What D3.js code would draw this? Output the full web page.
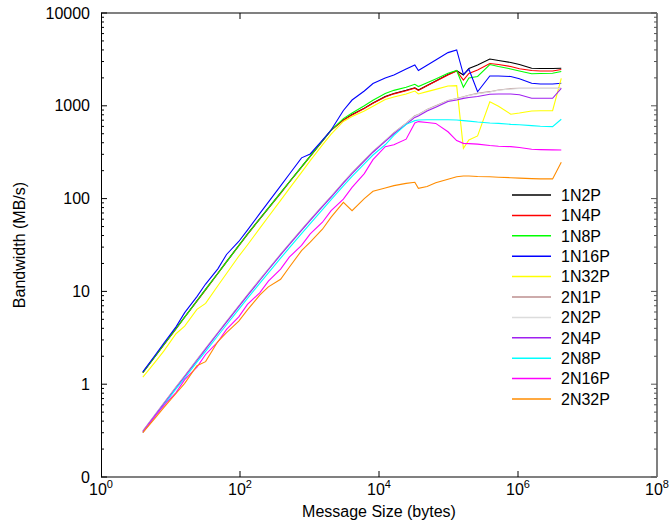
<!DOCTYPE html>
<html>
<head>
<meta charset="utf-8">
<script src="https://cdn.jsdelivr.net/npm/d3@7"></script>
<style>
  body { margin: 0; background: #fff; }
  svg { font-family: 'Liberation Sans', Arial, sans-serif; }
</style>
</head>
<body>
<div id="graf"></div>
<script>
// message sizes in bytes (shared by every series)
const sizes = [4, 6, 8, 12, 16, 24, 32, 48, 64, 96, 128, 192, 256, 384, 512, 768, 1024, 1536,
  2048, 3072, 4096, 6144, 8192, 12288, 16384, 24576, 32768, 36864, 49152, 65536, 98304,
  131072, 163840, 196608, 262144, 393216, 524288, 786432, 1048576, 1572864, 2097152,
  3145728, 4194304]

// bandwidth in MB/s, one value per size
const bw1N2P = [1.34, 2.0, 2.67, 3.98, 5.3, 7.91, 10.5, 15.7, 20.9, 31.2, 41.5, 60.5, 79.1, 115, 151, 220, 287, 419,
  547, 706, 805, 944, 1074, 1259, 1358, 1469, 1563, 1479, 1656, 1853, 2173,
  2388, 2148, 2523, 2754, 3194, 3076, 2931, 2786, 2537, 2523, 2523, 2537]
const bw1N4P = [1.33, 1.99, 2.65, 3.95, 5.27, 7.85, 10.4, 15.6, 20.8, 31.0, 41.2, 60.0, 78.5, 114, 150, 218, 285, 416,
  545, 700, 798, 935, 1064, 1247, 1345, 1455, 1548, 1465, 1640, 1835, 2150,
  2370, 1896, 2228, 2432, 2858, 2786, 2649, 2506, 2400, 2371, 2371, 2460]
const bw1N8P = [1.33, 1.99, 2.66, 3.96, 5.28, 7.88, 10.5, 15.6, 20.8, 31.1, 41.3, 60.3, 78.8, 115, 151, 220, 287, 419,
  547, 727, 837, 1001, 1149, 1360, 1467, 1587, 1704, 1612, 1772, 1946, 2238,
  2400, 1582, 1995, 2070, 2786, 2649, 2497, 2371, 2212, 2228, 2240, 2343]
const bw1N16P = [1.36, 2.05, 2.76, 4.15, 5.9, 8.8, 12.0, 17.5, 25.0, 34.5, 45.7, 68.8, 91.8, 137, 183, 275, 303, 426,
  548, 890, 1154, 1443, 1738, 1995, 2148, 2497, 2754, 2400, 2740, 3112, 3741,
  4000, 2184, 2473, 1418, 2094, 2094, 2070, 1957, 1747, 1717, 1717, 1747]
const bw1N32P = [1.19, 1.73, 2.27, 3.5, 4.22, 6.41, 7.43, 11.5, 15.6, 23.9, 31.6, 47.7, 63.7, 95.7, 128, 192, 257, 380,
  494, 678, 765, 878, 988, 1167, 1245, 1340, 1443, 1340, 1422, 1503, 1634,
  1650, 348, 428, 473, 1107, 989, 812, 836, 879, 885, 885, 1978]
const bw2N1P = [0.314, 0.47, 0.627, 0.934, 1.23, 1.84, 2.44, 3.61, 4.76, 6.99, 9.17, 13.4, 17.4, 25.2, 32.5, 46.3, 59.3, 83.6,
  106, 150, 190, 259, 322, 421, 512, 650, 780, 808, 915, 1000, 1140,
  1200, 1250, 1300, 1360, 1420, 1480, 1530, 1543, 1543, 1543, 1543, 1543]
const bw2N2P = [0.312, 0.468, 0.624, 0.93, 1.22, 1.83, 2.43, 3.59, 4.73, 6.95, 9.12, 13.3, 17.3, 25.1, 32.3, 46.0, 59.0, 83.2,
  105, 149, 189, 257, 320, 418, 508, 645, 772, 800, 905, 990, 1130,
  1190, 1240, 1290, 1350, 1410, 1470, 1520, 1535, 1535, 1535, 1535, 1535]
const bw2N4P = [0.308, 0.461, 0.615, 0.916, 1.21, 1.8, 2.39, 3.54, 4.67, 6.85, 8.99, 13.1, 17.1, 24.7, 31.9, 45.4, 58.1, 82.0,
  104, 147, 186, 254, 316, 413, 500, 631, 750, 776, 881, 966, 1114,
  1156, 1202, 1230, 1259, 1334, 1340, 1340, 1318, 1205, 1205, 1205, 1542]
const bw2N8P = [0.302, 0.453, 0.596, 0.889, 1.16, 1.73, 2.26, 3.33, 4.37, 6.4, 8.41, 12.2, 15.8, 22.8, 29.5, 41.9, 53.7, 75.9,
  97.7, 137, 174, 237, 295, 380, 479, 631, 692, 703, 708, 708, 708,
  703, 692, 684, 668, 653, 646, 631, 624, 611, 603, 596, 716]
const bw2N16P = [0.302, 0.452, 0.589, 0.813, 1.12, 1.53, 2.09, 2.85, 3.89, 5.31, 7.24, 9.66, 12.9, 17.4, 23.4, 31.3, 41.7, 55.6,
  74.1, 98.9, 132, 186, 263, 363, 380, 437, 653, 676, 661, 646, 525,
  422, 394, 391, 386, 373, 367, 363, 355, 340, 337, 335, 334]
const bw2N32P = [0.3, 0.432, 0.558, 0.794, 1.02, 1.58, 1.75, 2.88, 3.59, 4.79, 6.31, 9.12, 11.2, 13.5, 18.2, 27.5, 33.9, 46.8,
  63.1, 91.2, 74.1, 100, 120, 130, 138, 146, 150, 129, 135, 148, 162,
  172, 175, 175, 173, 172, 170, 168, 166, 164, 163, 163, 246]

const seriesNames = ['1N2P', '1N4P', '1N8P', '1N16P', '1N32P', '2N1P', '2N2P', '2N4P', '2N8P', '2N16P', '2N32P']
const seriesValues = [bw1N2P, bw1N4P, bw1N8P, bw1N16P, bw1N32P, bw2N1P, bw2N2P, bw2N4P, bw2N8P, bw2N16P, bw2N32P]

const xTicks = [1, 1e2, 1e4, 1e6, 1e8]
const xTickExp = ['0', '2', '4', '6', '8']
const yTicks = [0.1, 1, 10, 100, 1000, 10000]
const yTickLabels = ['0', '1', '10', '100', '1000', '10000']

const anchoTotal = 670
const altoTotal = 529
const margin = { top: 13, right: 13, bottom: 52, left: 101 }
const ancho = anchoTotal - margin.left - margin.right
const alto = altoTotal - margin.top - margin.bottom

const svg = d3.select('#graf')
  .append('svg')
  .attr('width', anchoTotal)
  .attr('height', altoTotal)

const g = svg.append('g')
  .attr('transform', `translate(${margin.left}, ${margin.top})`)

const x = d3.scaleLog().domain([1, 1e8]).range([0, ancho])
const y = d3.scaleLog().domain([0.1, 10000]).range([alto, 0])
const c = d3.scaleOrdinal()
  .domain(seriesNames)
  .range(['#000000', '#ff0000', '#00ff00', '#0000ff', '#ffff00', '#bc8f8f', '#dcdcdc',
    '#a020f0', '#00ffff', '#ff00ff', '#ff8c00'])

// minor y ticks: 2..9 times each decade
const yMinor = []
yTicks.slice(0, -1).forEach((d) => {
  for (let k = 2; k <= 9; k++) yMinor.push(d * k)
})

// frame
g.append('line').attr('x1', 0).attr('x2', ancho).attr('y1', 0).attr('y2', 0)
  .attr('stroke', '#808080').attr('stroke-width', 2)
g.append('line').attr('x1', 0).attr('x2', ancho).attr('y1', alto).attr('y2', alto)
  .attr('stroke', '#808080').attr('stroke-width', 2)
g.append('line').attr('x1', ancho).attr('x2', ancho).attr('y1', 0).attr('y2', alto)
  .attr('stroke', '#808080').attr('stroke-width', 2)
g.append('line').attr('x1', 0.5).attr('x2', 0.5).attr('y1', 0).attr('y2', alto)
  .attr('stroke', '#000').attr('stroke-width', 1)

// y ticks, both sides, inward
const yt = g.append('g').attr('stroke', '#000').attr('stroke-width', 1)
yTicks.forEach((d) => {
  yt.append('line').attr('x1', 0).attr('x2', 6).attr('y1', y(d)).attr('y2', y(d))
  yt.append('line').attr('x1', ancho).attr('x2', ancho - 6).attr('y1', y(d)).attr('y2', y(d))
    .attr('stroke', '#555')
})
yMinor.forEach((d) => {
  yt.append('line').attr('x1', 0).attr('x2', 3).attr('y1', y(d)).attr('y2', y(d))
  yt.append('line').attr('x1', ancho).attr('x2', ancho - 3).attr('y1', y(d)).attr('y2', y(d))
    .attr('stroke', '#555')
})

// x ticks, top and bottom, inward
const xt = g.append('g').attr('stroke', '#000').attr('stroke-width', 1)
xTicks.slice(1, -1).forEach((d) => {
  xt.append('line').attr('x1', x(d)).attr('x2', x(d)).attr('y1', alto).attr('y2', alto - 6)
  xt.append('line').attr('x1', x(d)).attr('x2', x(d)).attr('y1', 0).attr('y2', 6)
})

// tick labels
g.selectAll('.ylab')
  .data(yTicks)
  .join('text')
  .attr('x', -11)
  .attr('y', (d) => y(d))
  .attr('dy', '0.35em')
  .attr('text-anchor', 'end')
  .attr('font-size', 16)
  .text((d, i) => yTickLabels[i])

const xl = g.selectAll('.xlab')
  .data(xTicks)
  .join('text')
  .attr('x', (d) => x(d))
  .attr('y', alto + 18)
  .attr('text-anchor', 'middle')
  .attr('font-size', 16)
xl.append('tspan').text('10')
xl.append('tspan').attr('dy', -7).attr('font-size', 11).text((d, i) => xTickExp[i])

// axis titles
g.append('text')
  .attr('x', ancho / 2)
  .attr('y', alto + 40)
  .attr('text-anchor', 'middle')
  .attr('font-size', 16)
  .text('Message Size (bytes)')

g.append('text')
  .attr('transform', `translate(${-76}, ${alto / 2}) rotate(-90)`)
  .attr('text-anchor', 'middle')
  .attr('font-size', 16)
  .text('Bandwidth (MB/s)')

// lines
const generadorLinea = d3.line()
  .x((d) => x(d[0]))
  .y((d) => y(d[1]))

seriesNames.forEach((name, i) => {
  const data = sizes.map((s, j) => [s, seriesValues[i][j]])
  g.append('path')
    .attr('d', generadorLinea(data))
    .attr('fill', 'none')
    .attr('stroke', c(name))
    .attr('stroke-width', 1.1)
})

// legend
const leg = g.append('g').attr('transform', `translate(${411}, ${182})`)
seriesNames.forEach((name, i) => {
  const row = leg.append('g').attr('transform', `translate(0, ${i * 20.4})`)
  row.append('line').attr('x1', 0).attr('x2', 39).attr('y1', 0).attr('y2', 0)
    .attr('stroke', c(name)).attr('stroke-width', 1.5)
  row.append('text').attr('x', 49).attr('dy', '0.36em').attr('font-size', 16).text(name)
})
</script>
</body>
</html>
